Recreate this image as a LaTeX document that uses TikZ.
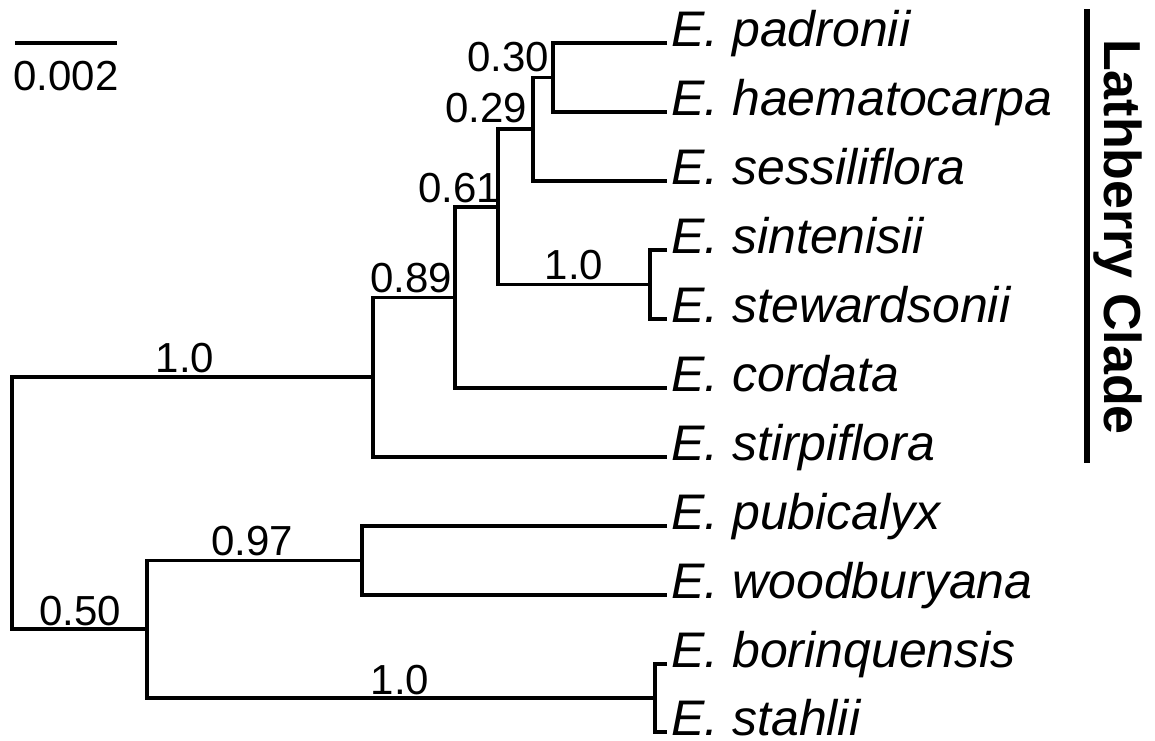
\documentclass[tikz,border=0pt]{standalone}
\usepackage{fontspec}
\setmainfont{Liberation Sans}
\begin{document}
\begin{tikzpicture}[x=1pt,y=-1pt,
  branch/.style={line width=3.5pt, line join=miter, line cap=butt},
  cladebar/.style={line width=5.5pt, line cap=butt},
  taxon/.style={anchor=base west, inner sep=0pt, font=\fontsize{50}{60}\selectfont\itshape},
  support/.style={inner sep=0pt, font=\fontsize{42}{50}\selectfont},
  cladename/.style={inner sep=0pt, rotate=-90, anchor=base, font=\fontsize{52}{60}\selectfont\bfseries},
  ]
\useasboundingbox (0,0) rectangle (1155,740);

% tips
\coordinate (padronii) at (667,43);
\coordinate (haemato)  at (667,112);
\coordinate (sessili)  at (667,181);
\coordinate (sinten)   at (667,250);
\coordinate (steward)  at (667,319);
\coordinate (cordata)  at (667,388);
\coordinate (stirpi)   at (667,457);
\coordinate (pubical)  at (667,526);
\coordinate (woodbury) at (667,595);
\coordinate (borinq)   at (667,664);
\coordinate (stahlii)  at (667,732);

% internal nodes (x = depth, y = midpoint of children)
\coordinate (nA)   at (553,77.5);
\coordinate (nB)   at (533,129);
\coordinate (nS)   at (650,284.5);
\coordinate (nC)   at (498,207);
\coordinate (nD)   at (455,297.5);
\coordinate (nE)   at (373,377);
\coordinate (nG)   at (362,560.5);
\coordinate (nH)   at (655,698);
\coordinate (nF)   at (147,629);
\coordinate (root) at (12,503);

% branches
\draw[branch] (padronii) -| (nA) |- (haemato);
\draw[branch] (nA) -| (nB) |- (sessili);
\draw[branch] (sinten) -| (nS) |- (steward);
\draw[branch] (nB) -| (nC) |- (nS);
\draw[branch] (nC) -| (nD) |- (cordata);
\draw[branch] (nD) -| (nE) |- (stirpi);
\draw[branch] (pubical) -| (nG) |- (woodbury);
\draw[branch] (borinq) -| (nH) |- (stahlii);
\draw[branch] (nG) -| (nF) |- (nH);
\draw[branch] (nE) -| (root) |- (nF);

% taxon names
\node[taxon] (tpadronii) at (671,46)  {E. padronii};
\node[taxon] (thaemato)  at (671,115) {E. haematocarpa};
\node[taxon] (tsessili)  at (671,184) {E. sessiliflora};
\node[taxon] (tsinten)   at (671,253) {E. sintenisii};
\node[taxon] (tsteward)  at (671,322) {E. stewardsonii};
\node[taxon] (tcordata)  at (671,391) {E. cordata};
\node[taxon] (tstirpi)   at (671,460) {E. stirpiflora};
\node[taxon] (tpubical)  at (671,529) {E. pubicalyx};
\node[taxon] (twoodbury) at (671,598) {E. woodburyana};
\node[taxon] (tborinq)   at (671,667) {E. borinquensis};
\node[taxon] (tstahlii)  at (671,735) {E. stahlii};

% support values
\node[support, anchor=base east] (sA) at (549,71)  {0.30};
\node[support, anchor=base east] (sB) at (527,122) {0.29};
\node[support, anchor=base east] (sC) at (500,202) {0.61};
\node[support, anchor=base east] (sD) at (452,292) {0.89};
\node[support, anchor=base] (sS) at (574,279) {1.0};
\node[support, anchor=base] (sE) at (185,372) {1.0};
\node[support, anchor=base] (sG) at (252,555) {0.97};
\node[support, anchor=base] (sF) at (80,625)  {0.50};
\node[support, anchor=base] (sH) at (400,694) {1.0};

% scale bar
\coordinate (scaleL) at (15,43);
\coordinate (scaleR) at (117,43);
\draw[branch] (scaleL) -- (scaleR);
\node[support, anchor=base] (scaletext) at (66,90) {0.002};

% clade bracket
\coordinate (cladeTop) at (1087,9);
\coordinate (cladeBot) at (1087,463);
\draw[cladebar] (cladeTop) -- (cladeBot);
\node[cladename] (clade) at (1104,237) {Lathberry Clade};
\end{tikzpicture}
\end{document}
